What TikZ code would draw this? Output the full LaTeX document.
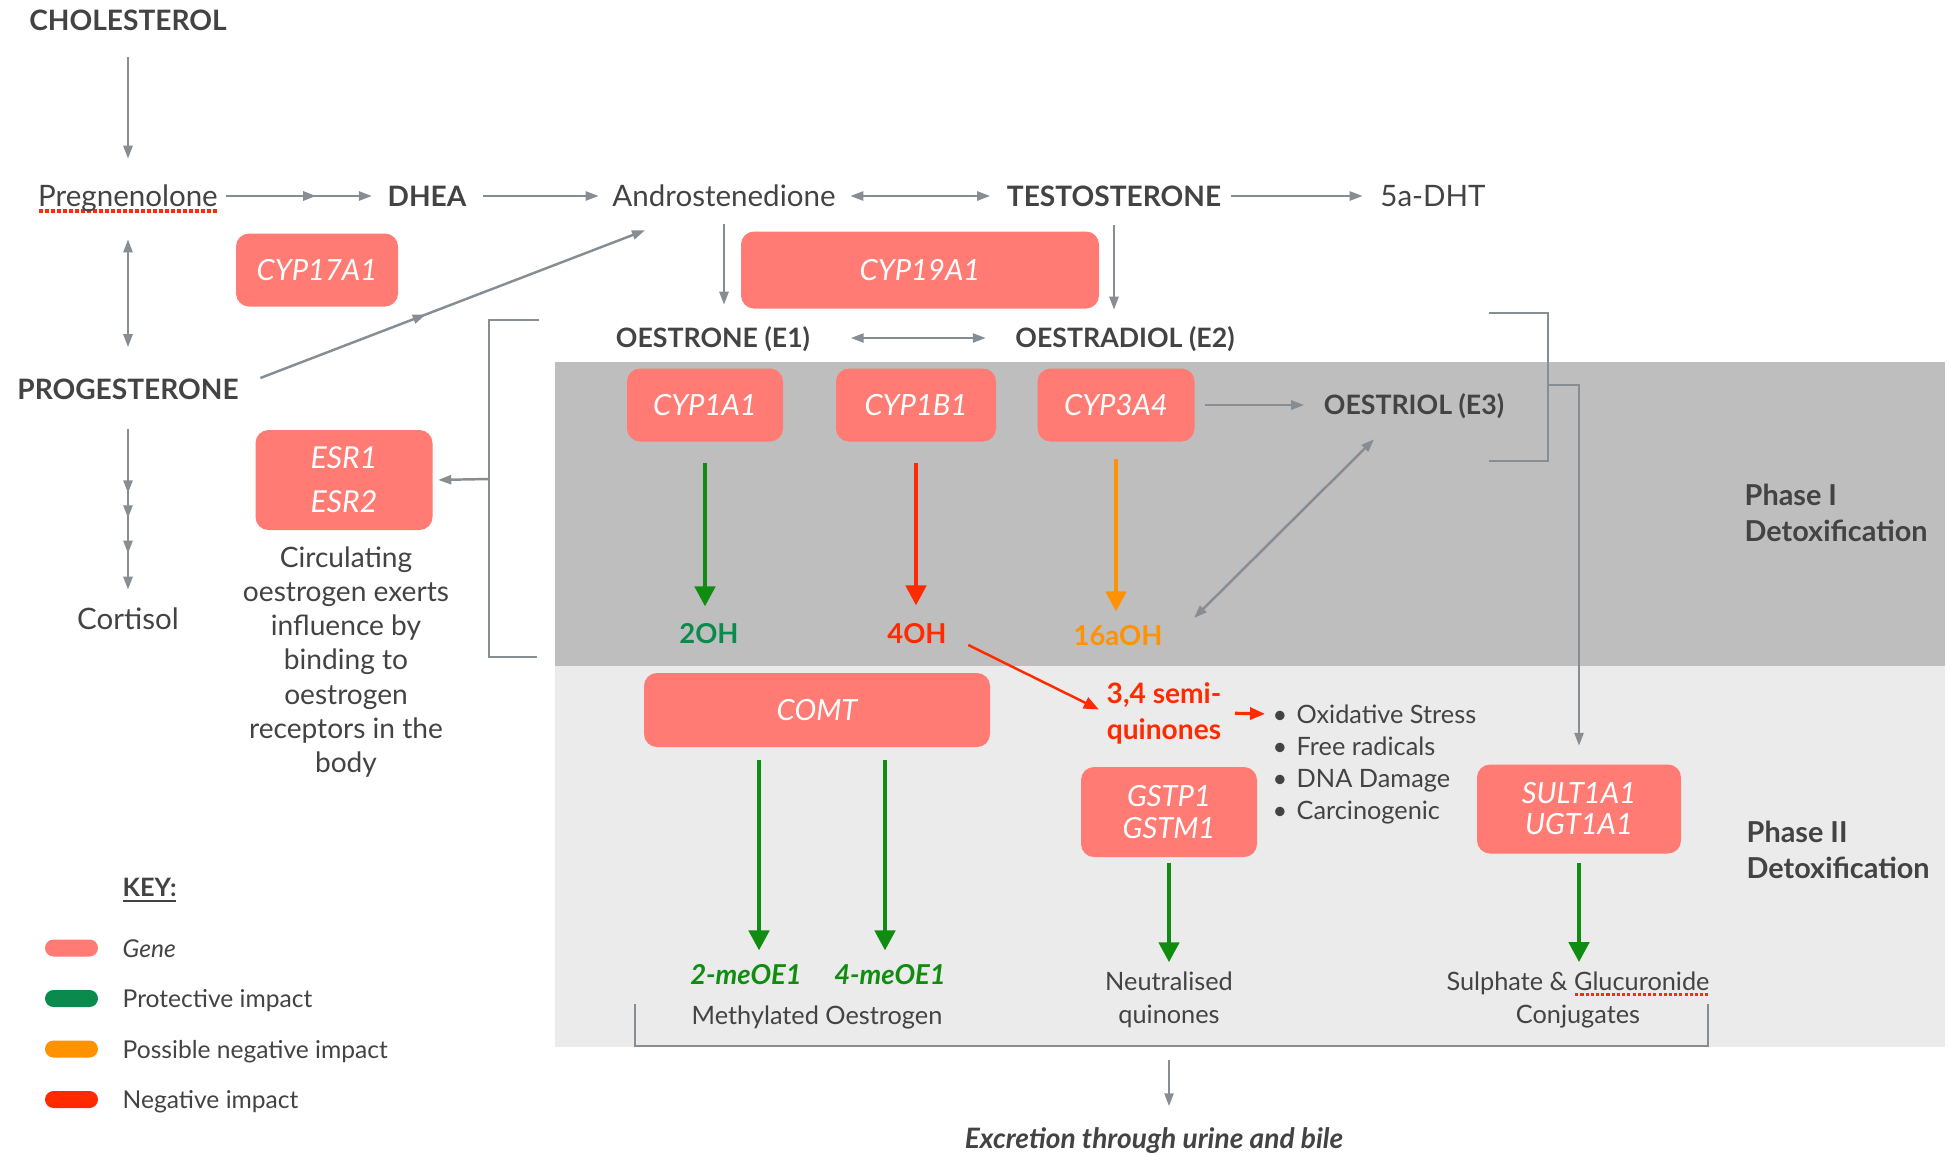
\documentclass[tikz,border=0pt]{standalone}
\usepackage{fontspec}
\setmainfont{Lato}
\usepackage{tikz}
\usetikzlibrary{positioning, arrows.meta, calc, decorations.markings}
\definecolor{grisfonce}{HTML}{434343}
\definecolor{grisfleche}{HTML}{868D93}
\definecolor{rosegene}{HTML}{FF7B74}
\definecolor{grisphaseun}{HTML}{BEBEBE}
\definecolor{grisphasedeux}{HTML}{EBEBEB}
\definecolor{vertprotect}{HTML}{0B8A4E}
\definecolor{vertfleche}{HTML}{108C10}
\definecolor{rougevif}{HTML}{FF2A00}
\definecolor{orangevif}{HTML}{FF9200}
\newcommand{\taille}[2]{\fontsize{#1}{#2}\selectfont}
\newcommand{\fautefrappe}[1]{\setbox0=\hbox{#1}\rlap{\textcolor{rougevif}{\raisebox{-0.42ex}{\hbox to \wd0{\xleaders\hbox{\kern0.04em\rule{0.12em}{0.12em}\kern0.04em}\hfil}}}}\box0}

\begin{document}
\begin{tikzpicture}[x=0.1mm, y=-0.1mm, text=grisfonce,
    grand/.style={inner sep=0pt, text height=6.02pt, text depth=0pt, font=\taille{8.4}{10}},
    grandgras/.style={inner sep=0pt, text height=5.73pt, text depth=0pt, font=\taille{8}{10}\bfseries},
    hormone/.style={inner sep=0pt, text height=5.45pt, text depth=0pt, font=\taille{7.6}{9}\bfseries},
    metab/.style={inner sep=0pt, text height=5.59pt, text depth=0pt, font=\taille{7.8}{9}\bfseries},
    meth/.style={metab, font=\taille{7.8}{9}\bfseries\itshape, text=vertfleche},
    corps/.style={inner sep=0pt, align=center, font=\taille{8}{9.7}},
    petit/.style={inner sep=0pt, align=center, font=\taille{7.2}{9.4}},
    cle/.style={inner sep=0pt, text height=5.16pt, text depth=0pt, anchor=west, font=\taille{7}{9}},
    phase/.style={inner sep=0pt, anchor=west, align=left, font=\taille{8.2}{10.2}\bfseries},
    gene/.style={fill=rosegene, rounded corners=1.3mm, text=white, inner sep=0pt, align=center, font=\taille{8.3}{10}\itshape},
    fgris/.style={grisfleche, line width=0.7pt, -{Triangle[length=1.3mm, width=0.9mm]}},
    fgrisdouble/.style={fgris, {Triangle[length=1.3mm, width=0.9mm]}-{Triangle[length=1.3mm, width=0.9mm]}},
    fcouleur/.style={line width=1.3pt, -{Triangle[length=2mm, width=2mm]}},
    frouge/.style={rougevif, line width=0.7pt, -{Triangle[length=1.5mm, width=1.2mm]}},
    fmilieu/.style={postaction={decorate, decoration={markings, mark=at position #1 with {\arrow{Triangle[length=1.3mm, width=0.9mm]}}}}},
    crochet/.style={draw=grisfleche, line width=0.7pt},
  ]
  \useasboundingbox (0,0) rectangle (1950,1153);

  % bandes des phases de détoxification
  \fill[grisphaseun] (555,362) rectangle (1945,666);
  \fill[grisphasedeux] (555,666) rectangle (1945,1047);

  % voie des stéroïdes
  \node[grandgras] (chol) at (128,20) {CHOLESTEROL};
  \node[grand] (preg) at (128,196) {\fautefrappe{Pregnenolone}};
  \node[grandgras] (dhea) at (427,196) {DHEA};
  \node[grand] (andro) at (724,196) {Androstenedione};
  \node[grandgras] (testo) at (1114,196) {TESTOSTERONE};
  \node[grand] (dht) at (1433,196) {5a-DHT};
  \node[grandgras] (proges) at (128,389) {PROGESTERONE};
  \node[grand] (cortisol) at (128,619) {Cortisol};
  \node[hormone] (e1) at (713,338) {OESTRONE (E1)};
  \node[hormone] (e2) at (1125,338) {OESTRADIOL (E2)};
  \node[hormone] (e3) at (1414,405) {OESTRIOL (E3)};

  % gènes
  \node[gene, minimum width=16.2mm, minimum height=7.3mm] (cyp17) at (317,270) {CYP17A1};
  \node[gene, minimum width=35.8mm, minimum height=7.7mm] (cyp19) at (920,270) {CYP19A1};
  \node[gene, minimum width=17.7mm, minimum height=10mm, font=\taille{8.6}{12.5}\itshape] (esr) at (344,480) {ESR1\\ESR2};
  \node[gene, minimum width=15.6mm, minimum height=7.3mm] (cyp1a1) at (705,405) {CYP1A1};
  \node[gene, minimum width=16mm, minimum height=7.3mm] (cyp1b1) at (916,405) {CYP1B1};
  \node[gene, minimum width=15.7mm, minimum height=7.3mm] (cyp3a4) at (1116,405) {CYP3A4};
  \node[gene, minimum width=34.6mm, minimum height=7.4mm] (comt) at (817,710) {COMT};
  \node[gene, minimum width=17.6mm, minimum height=9mm, font=\taille{8.3}{9}\itshape] (gst) at (1169,812) {GSTP1\\GSTM1};
  \node[gene, minimum width=20.4mm, minimum height=8.9mm, font=\taille{8.3}{8.8}\itshape] (sult) at (1579,809) {SULT1A1\\UGT1A1};

  \node[corps] (circ) at (346,662) {Circulating\\oestrogen exerts\\influence by\\binding to\\oestrogen\\receptors in the\\body};

  % métabolites
  \node[metab, text=vertprotect] (oh2) at (709,634) {2OH};
  \node[metab, text=rougevif] (oh4) at (917,634) {4OH};
  \node[metab, text=orangevif] (oh16) at (1118,636) {16aOH};
  \node[inner sep=0pt, align=center, font=\taille{8}{10.2}\bfseries, text=rougevif] (semi) at (1164,713) {3,4 semi-\\quinones};
  \foreach \t [count=\i] in {Oxidative Stress, Free radicals, DNA Damage, Carcinogenic}{
    \node[cle, font=\taille{7.2}{9}] (puce\i) at (1272,{714+(\i-1)*32}) {\makebox[2.4mm][l]{\textbullet}\t};
  }
  \node[meth] (me2) at (746,975) {2-meOE1};
  \node[meth] (me4) at (890,975) {4-meOE1};
  \node[petit] (methyl) at (817,1017) {Methylated Oestrogen};
  \node[petit] (neut) at (1169,1000) {Neutralised\\quinones};
  \node[petit] (sulph) at (1578,1000) {Sulphate \& \fautefrappe{Glucuronide}\\Conjugates};
  \node[metab, font=\taille{8}{9}\bfseries\itshape, text height=5.73pt] (excr) at (1154,1138) {Excretion through urine and bile};

  \node[phase] (phase1) at (1744,513) {Phase I\\Detoxification};
  \node[phase] (phase2) at (1746,850) {Phase II\\Detoxification};

  % flèches de la voie
  \draw[fgris, shorten <=2.6mm, shorten >=2.6mm] (chol) -- (preg);
  \draw[fgris, fmilieu=0.58, shorten <=0.8mm, shorten >=1.5mm] (preg) -- (dhea);
  \draw[fgris, shorten <=1.6mm, shorten >=1.3mm] (dhea) -- (andro);
  \draw[fgrisdouble, shorten <=1.4mm, shorten >=1.6mm] (andro) -- (testo);
  \draw[fgris, shorten <=0.9mm, shorten >=1.7mm] (testo) -- (dht);
  \draw[fgrisdouble, shorten <=3.2mm, shorten >=3.1mm] (preg) -- (proges);
  \draw[fgris, fmilieu=0.43] ([xshift=2.1mm, yshift=1.1mm]proges.east) -- ([xshift=-7.9mm, yshift=-2.3mm]andro.south);
  \draw[fgris, fmilieu=0.45, fmilieu=0.57, fmilieu=0.74, shorten <=2.9mm, shorten >=1.8mm] (proges) -- (cortisol);
  \draw[fgris, shorten <=1.7mm, shorten >=2.3mm] (andro.south) -- (andro.south |- e1.north);
  \draw[fgris, shorten <=1.8mm, shorten >=1.8mm] (testo.south) -- (testo.south |- e2.north);
  \draw[fgrisdouble, shorten <=4mm, shorten >=2.9mm] (e1) -- (e2);
  \draw[fgris, shorten <=1mm, shorten >=1.9mm] (cyp3a4) -- (e3);
  \draw[fgrisdouble] ([xshift=3.1mm, yshift=1.8mm]oh16.east) -- ([xshift=-4mm, yshift=-2.4mm]e3.south);

  % crochets
  \draw[crochet] (539,320) -- (489,320) -- (489,657) -- (537,657);
  \coordinate (crogauche) at (489,479);
  \draw[fgris, shorten >=0.5mm] (crogauche) -- (esr.east);
  \draw[crochet] (1489,313) -- (1548,313) -- (1548,461) -- (1489,461);
  \coordinate (crodroit) at (1548,385);
  \draw[fgris, shorten >=1.8mm] (crodroit) -| (sult.north);
  \draw[crochet] (635,1004) -- (635,1046) -- (1708,1046) -- (1708,1004);
  \coordinate (crobas) at (1169,1046);
  \draw[fgris, shorten <=1.4mm, shorten >=2.1mm] (crobas) -- (crobas |- excr.north);

  % phase I
  \draw[fcouleur, vertfleche, shorten <=2.1mm, shorten >=1.7mm] (cyp1a1) -- (cyp1a1 |- oh2.north);
  \draw[fcouleur, rougevif, shorten <=2.1mm, shorten >=1.8mm] (cyp1b1) -- (cyp1b1 |- oh4.north);
  \draw[fcouleur, orangevif, shorten <=1.7mm, shorten >=1.4mm] (cyp3a4) -- (cyp3a4 |- oh16.north);
  \draw[frouge, shorten >=0.8mm] ([xshift=2.1mm, yshift=-1.1mm]oh4.east) -- (semi.west);
  \draw[frouge, line width=0.9pt, shorten <=1.3mm, shorten >=0.7mm] (semi.east) -- (puce1.west);

  % phase II
  \coordinate (comtg) at ([xshift=-5.8mm]comt.south);
  \coordinate (comtd) at ([xshift=6.8mm]comt.south);
  \draw[fcouleur, vertfleche, shorten <=1.2mm, shorten >=1.4mm] (comtg) -- (comtg |- me2.north);
  \draw[fcouleur, vertfleche, shorten <=1.2mm, shorten >=1.4mm] (comtd) -- (comtd |- me4.north);
  \draw[fcouleur, vertfleche, shorten <=0.5mm, shorten >=0.9mm] (gst) -- (gst |- neut.north);
  \draw[fcouleur, vertfleche, shorten <=0.9mm, shorten >=0.9mm] (sult) -- (sult |- sulph.north);

  % légende
  \node[cle, font=\taille{7.2}{9}\bfseries] (clef) at (122,887) {\underline{KEY:}};
  \foreach \coul/\texte [count=\i] in {rosegene/{\itshape Gene}, vertprotect/Protective impact, orangevif/Possible negative impact, rougevif/Negative impact}{
    \fill[\coul, rounded corners=0.85mm] (45,{948+(\i-1)*50.5-8.5}) rectangle (98,{948+(\i-1)*50.5+8.5});
    \node[cle] (cle\i) at (122,{948+(\i-1)*50.5}) {\texte};
  }
\end{tikzpicture}
\end{document}
